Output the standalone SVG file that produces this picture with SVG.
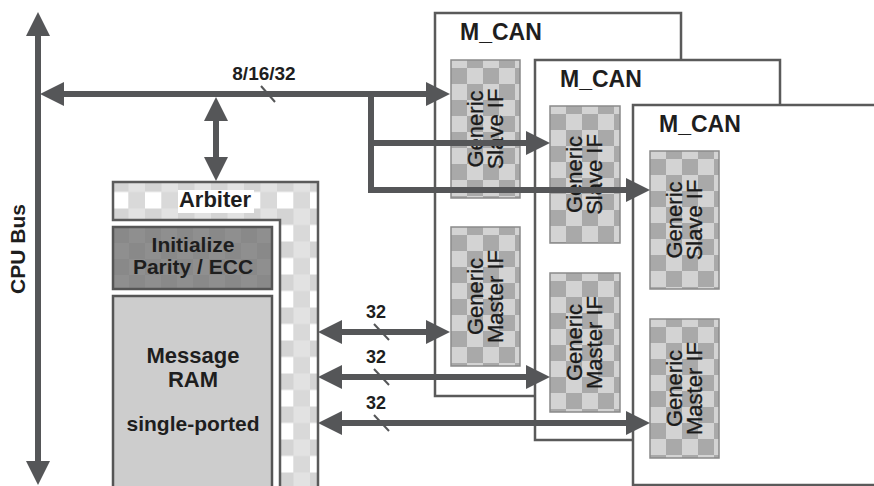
<svg xmlns="http://www.w3.org/2000/svg" width="874" height="486" viewBox="0 0 874 486">
<style>
.conn{stroke:#555658;stroke-width:6;fill:none;stroke-linejoin:miter}
.tick{stroke:#555658;stroke-width:2;fill:none}
.box{fill:#fff;stroke:#5a5a5a;stroke-width:2.5}
.if{fill:url(#chk);stroke:#8a8a8a;stroke-width:1.5}
.lbl{font-family:"Liberation Sans",Arial,sans-serif;font-weight:bold;fill:#1e1e1e}
.ift{font-family:"Liberation Sans",Arial,sans-serif;font-size:22px;fill:#1a1a1a;stroke:#1a1a1a;stroke-width:0.3;text-anchor:middle}
.mid{text-anchor:middle}
</style>
<defs>
<marker id="ah" viewBox="0 -12 24 24" refX="1" refY="0" markerWidth="24" markerHeight="24" markerUnits="userSpaceOnUse" orient="auto-start-reverse">
<path d="M0,-12 L24,0 L0,12 z" fill="#555658"/>
</marker>
<pattern id="chk" patternUnits="userSpaceOnUse" x="0" y="8" width="32" height="32">
<rect width="32" height="32" fill="#d3d3d3"/>
<rect width="16" height="16" fill="#a9a9a9"/>
<rect x="16" y="16" width="16" height="16" fill="#a9a9a9"/>
</pattern>
<pattern id="arb" patternUnits="userSpaceOnUse" x="145" y="175.5" width="33" height="33">
<rect width="33" height="33" fill="#e2e2e2"/>
<rect width="16.5" height="16.5" fill="#d4d4d4"/>
<rect y="16.5" width="16.5" height="16.5" fill="#ffffff"/>
<rect x="16.5" y="16.5" width="16.5" height="16.5" fill="#d9d9d9"/>
</pattern>
<pattern id="ini" patternUnits="userSpaceOnUse" x="113" y="227" width="32" height="32">
<rect width="32" height="32" fill="#8f8f8f"/>
<rect width="16" height="16" fill="#898989"/>
<rect x="16" y="16" width="16" height="16" fill="#898989"/>
</pattern>
</defs>

<g id="cpu-bus-label">
<text class="lbl mid" font-size="21" transform="translate(25,249) rotate(-90)">CPU Bus</text>
</g>

<g id="arbiter">
<polygon points="113,182 318,182 318,492 280,492 280,220 113,220" fill="url(#arb)" stroke="#5a5a5a" stroke-width="2.5"/>
<rect x="178" y="190" width="76" height="23" fill="#fff"/>
<text class="lbl mid" font-size="22" x="215" y="207">Arbiter</text>
</g>

<g id="init-parity">
<rect x="113" y="227" width="159" height="62" fill="url(#ini)" stroke="#555" stroke-width="2.5"/>
<text class="lbl mid" font-size="21" x="193" y="252">Initialize</text>
<text class="lbl mid" font-size="21" x="193" y="274">Parity / ECC</text>
</g>

<g id="message-ram">
<rect x="113" y="296" width="159" height="196" fill="#cdcdcd" stroke="#555" stroke-width="2.5"/>
<text class="lbl mid" font-size="22" x="193" y="363">Message</text>
<text class="lbl mid" font-size="22" x="193" y="387">RAM</text>
<text class="lbl mid" font-size="21" x="193" y="431">single-ported</text>
</g>

<g id="mcan1">
<rect class="box" x="435" y="13" width="246" height="383"/>
<text class="lbl" font-size="23" x="460" y="40">M_CAN</text>
<g id="mcan1-slave" transform="translate(451,60)">
<rect class="if" width="69" height="138"/>
<g transform="translate(34.5,69) rotate(-90)"><text class="ift" y="-3">Generic</text><text class="ift" y="17">Slave IF</text></g>
</g>
<g id="mcan1-master" transform="translate(451,227)">
<rect class="if" width="69" height="139"/>
<g transform="translate(34.5,69.5) rotate(-90)"><text class="ift" y="-3">Generic</text><text class="ift" y="17">Master IF</text></g>
</g>
</g>

<g id="mcan2">
<rect class="box" x="535" y="60" width="245" height="380"/>
<text class="lbl" font-size="23" x="560" y="87">M_CAN</text>
<g id="mcan2-slave" transform="translate(550,106)">
<rect class="if" width="70" height="137"/>
<g transform="translate(35,68.5) rotate(-90)"><text class="ift" y="-3">Generic</text><text class="ift" y="17">Slave IF</text></g>
</g>
<g id="mcan2-master" transform="translate(550,273)">
<rect class="if" width="70" height="139"/>
<g transform="translate(35,69.5) rotate(-90)"><text class="ift" y="-3">Generic</text><text class="ift" y="17">Master IF</text></g>
</g>
</g>

<g id="mcan3">
<rect class="box" x="633" y="105" width="260" height="380"/>
<text class="lbl" font-size="23" x="659" y="132">M_CAN</text>
<g id="mcan3-slave" transform="translate(650,151)">
<rect class="if" width="69" height="138"/>
<g transform="translate(34.5,69) rotate(-90)"><text class="ift" y="-3">Generic</text><text class="ift" y="17">Slave IF</text></g>
</g>
<g id="mcan3-master" transform="translate(650,319)">
<rect class="if" width="69" height="139"/>
<g transform="translate(34.5,69.5) rotate(-90)"><text class="ift" y="-3">Generic</text><text class="ift" y="17">Master IF</text></g>
</g>
</g>

<g id="connectors">
<line class="conn" x1="38" y1="35" x2="38" y2="462" marker-start="url(#ah)" marker-end="url(#ah)"/>
<line class="conn" x1="63" y1="94" x2="427" y2="94" marker-start="url(#ah)" marker-end="url(#ah)"/>
<line class="conn" x1="216" y1="120" x2="216" y2="158" marker-start="url(#ah)" marker-end="url(#ah)"/>
<path class="conn" d="M371,92 V190 H627" marker-end="url(#ah)"/>
<line class="conn" x1="371" y1="143" x2="527" y2="143" marker-end="url(#ah)"/>
<line class="conn" x1="341" y1="332" x2="427" y2="332" marker-start="url(#ah)" marker-end="url(#ah)"/>
<line class="conn" x1="341" y1="377" x2="527" y2="377" marker-start="url(#ah)" marker-end="url(#ah)"/>
<line class="conn" x1="341" y1="423" x2="627" y2="423" marker-start="url(#ah)" marker-end="url(#ah)"/>
<line class="tick" x1="261" y1="86" x2="275" y2="102"/>
<line class="tick" x1="374" y1="324" x2="389" y2="340"/>
<line class="tick" x1="374" y1="369" x2="389" y2="385"/>
<line class="tick" x1="374" y1="415" x2="389" y2="431"/>
<text class="lbl mid" font-size="19" x="264" y="80">8/16/32</text>
<text class="lbl mid" font-size="18" x="376" y="318">32</text>
<text class="lbl mid" font-size="18" x="376" y="363">32</text>
<text class="lbl mid" font-size="18" x="376" y="409">32</text>
</g>
</svg>
